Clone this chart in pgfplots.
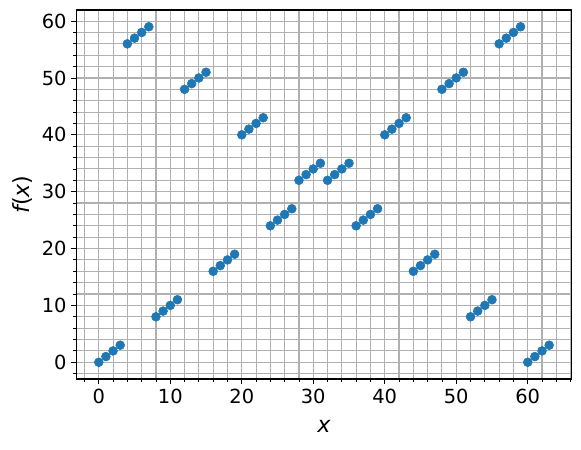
\documentclass[border=0pt]{standalone}
\usepackage{fontspec}
\setmainfont{DejaVu Sans}
\usepackage{pgfplots}
\pgfplotsset{compat=1.18}
\definecolor{mplblue}{HTML}{1F77B4}
\definecolor{mplgrid}{HTML}{B0B0B0}

\begin{document}
\begin{tikzpicture}
\begin{axis}[
    scale only axis,
    width=356.7bp, height=265.7bp,
    xmin=-3.15, xmax=66.15,
    ymin=-2.95, ymax=61.95,
    % grid every 2 units, short ticks without labels
    xtick={-2,0,...,66},
    ytick={-2,0,...,60},
    xticklabels={},
    yticklabels={},
    grid=major,
    major grid style={mplgrid, line width=0.8bp},
    % labelled ticks every 10 units
    extra x ticks={0,10,20,30,40,50,60},
    extra y ticks={0,10,20,30,40,50,60},
    extra x tick labels={0,10,20,30,40,50,60},
    extra y tick labels={0,10,20,30,40,50,60},
    extra tick style={grid=none, major tick length=3.5bp},
    axis line style={black, line width=0.8bp},
    tick align=outside,
    tick pos=left,
    major tick length=2bp,
    tick style={black, line width=0.6bp},
    tick label style={font=\fontsize{14bp}{16bp}\selectfont},
    xlabel={\itshape x},
    ylabel={\itshape f\upshape(\itshape x\upshape)},
    label style={font=\fontsize{16bp}{18bp}\selectfont},
    xlabel style={at={(axis description cs:0.5,0)}, anchor=center, yshift=-34.3bp},
    ylabel style={at={(axis description cs:0,0.5)}, anchor=center, yshift=38.4bp},
]
\addplot[only marks, mark=*, mark size=3.2bp, color=mplblue, mark options={fill=mplblue, draw=mplblue}] coordinates {
(0,0) (1,1) (2,2) (3,3)
(4,56) (5,57) (6,58) (7,59)
(8,8) (9,9) (10,10) (11,11)
(12,48) (13,49) (14,50) (15,51)
(16,16) (17,17) (18,18) (19,19)
(20,40) (21,41) (22,42) (23,43)
(24,24) (25,25) (26,26) (27,27)
(28,32) (29,33) (30,34) (31,35)
(32,32) (33,33) (34,34) (35,35)
(36,24) (37,25) (38,26) (39,27)
(40,40) (41,41) (42,42) (43,43)
(44,16) (45,17) (46,18) (47,19)
(48,48) (49,49) (50,50) (51,51)
(52,8) (53,9) (54,10) (55,11)
(56,56) (57,57) (58,58) (59,59)
(60,0) (61,1) (62,2) (63,3)
};
\end{axis}
\pgfresetboundingbox
\path (-54.9bp,-50.4bp) rectangle (363.4bp,272.9bp);
\end{tikzpicture}
\end{document}
